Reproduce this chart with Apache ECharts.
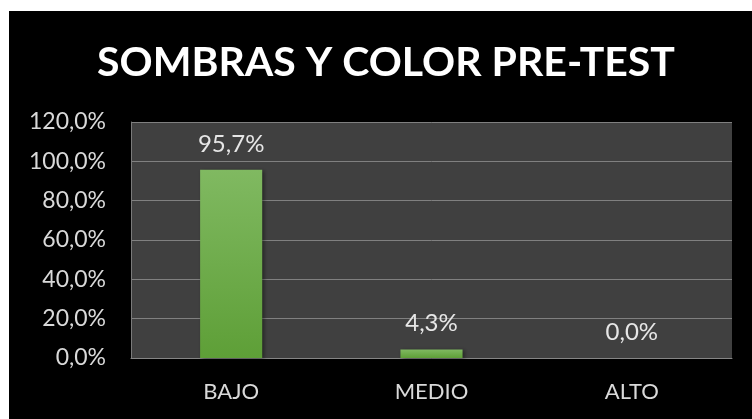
<!DOCTYPE html>
<html>
<head>
<meta charset="utf-8">
<script src="https://cdn.jsdelivr.net/npm/echarts@6/dist/echarts.min.js"></script>
<style>
  html, body { margin: 0; padding: 0; background: #ffffff; }
  #chart { width: 752px; height: 419px; }
</style>
</head>
<body>
<div id="chart"></div>
<script>
// Chart content
const titleText = 'SOMBRAS Y COLOR PRE-TEST';
const categories = ['BAJO', 'MEDIO', 'ALTO'];
const percentages = [95.7, 4.3, 0.0];
const yTicks = { min: 0, max: 120, step: 20 };

function pct(v) {
  return v.toFixed(1).replace('.', ',') + '%';
}

const chart = echarts.init(document.getElementById('chart'));
chart.setOption({
  backgroundColor: '#ffffff',
  animation: false,
  graphic: [{
    type: 'rect',
    z: -10,
    shape: { x: 9, y: 11, width: 752 - 9, height: 419 - 11 },
    style: { fill: '#000000' }
  }, {
    type: 'text',
    z: 10,
    x: 386,
    y: 63,
    style: {
      text: titleText,
      fill: '#ffffff',
      font: 'bold 41px Lato',
      textAlign: 'center',
      textVerticalAlign: 'middle'
    }
  }],
  grid: {
    left: 131, right: 20, top: 122, bottom: 61,
    show: true,
    backgroundColor: '#404040',
    borderWidth: 0
  },
  xAxis: {
    type: 'category',
    data: categories,
    axisLine: { show: true, lineStyle: { color: '#858585', width: 1 } },
    axisTick: { show: false },
    axisLabel: {
      color: '#d9d9d9', fontFamily: 'Lato', fontSize: 22, margin: 23
    }
  },
  yAxis: {
    type: 'value',
    min: yTicks.min,
    max: yTicks.max,
    interval: yTicks.step,
    axisLine: { show: true, lineStyle: { color: '#7a7a7a', width: 1 } },
    axisTick: { show: false },
    splitLine: { show: true, lineStyle: { color: '#808080', width: 1 } },
    axisLabel: {
      color: '#d9d9d9', fontFamily: 'Lato', fontSize: 23, margin: 25,
      formatter: v => pct(v)
    }
  },
  series: [{
    type: 'bar',
    data: percentages,
    barWidth: '31%',
    itemStyle: {
      color: new echarts.graphic.LinearGradient(0, 0, 0, 1, [
        { offset: 0, color: '#80b961' },
        { offset: 1, color: '#5e9f37' }
      ]),
      shadowColor: 'rgba(0,0,0,0.45)',
      shadowBlur: 4,
      shadowOffsetX: 2,
      shadowOffsetY: 1
    },
    label: {
      show: true,
      position: 'top',
      distance: 14,
      color: '#e6e6e6',
      fontFamily: 'Lato',
      fontSize: 24,
      formatter: p => pct(p.value)
    }
  }]
});
</script>
</body>
</html>
